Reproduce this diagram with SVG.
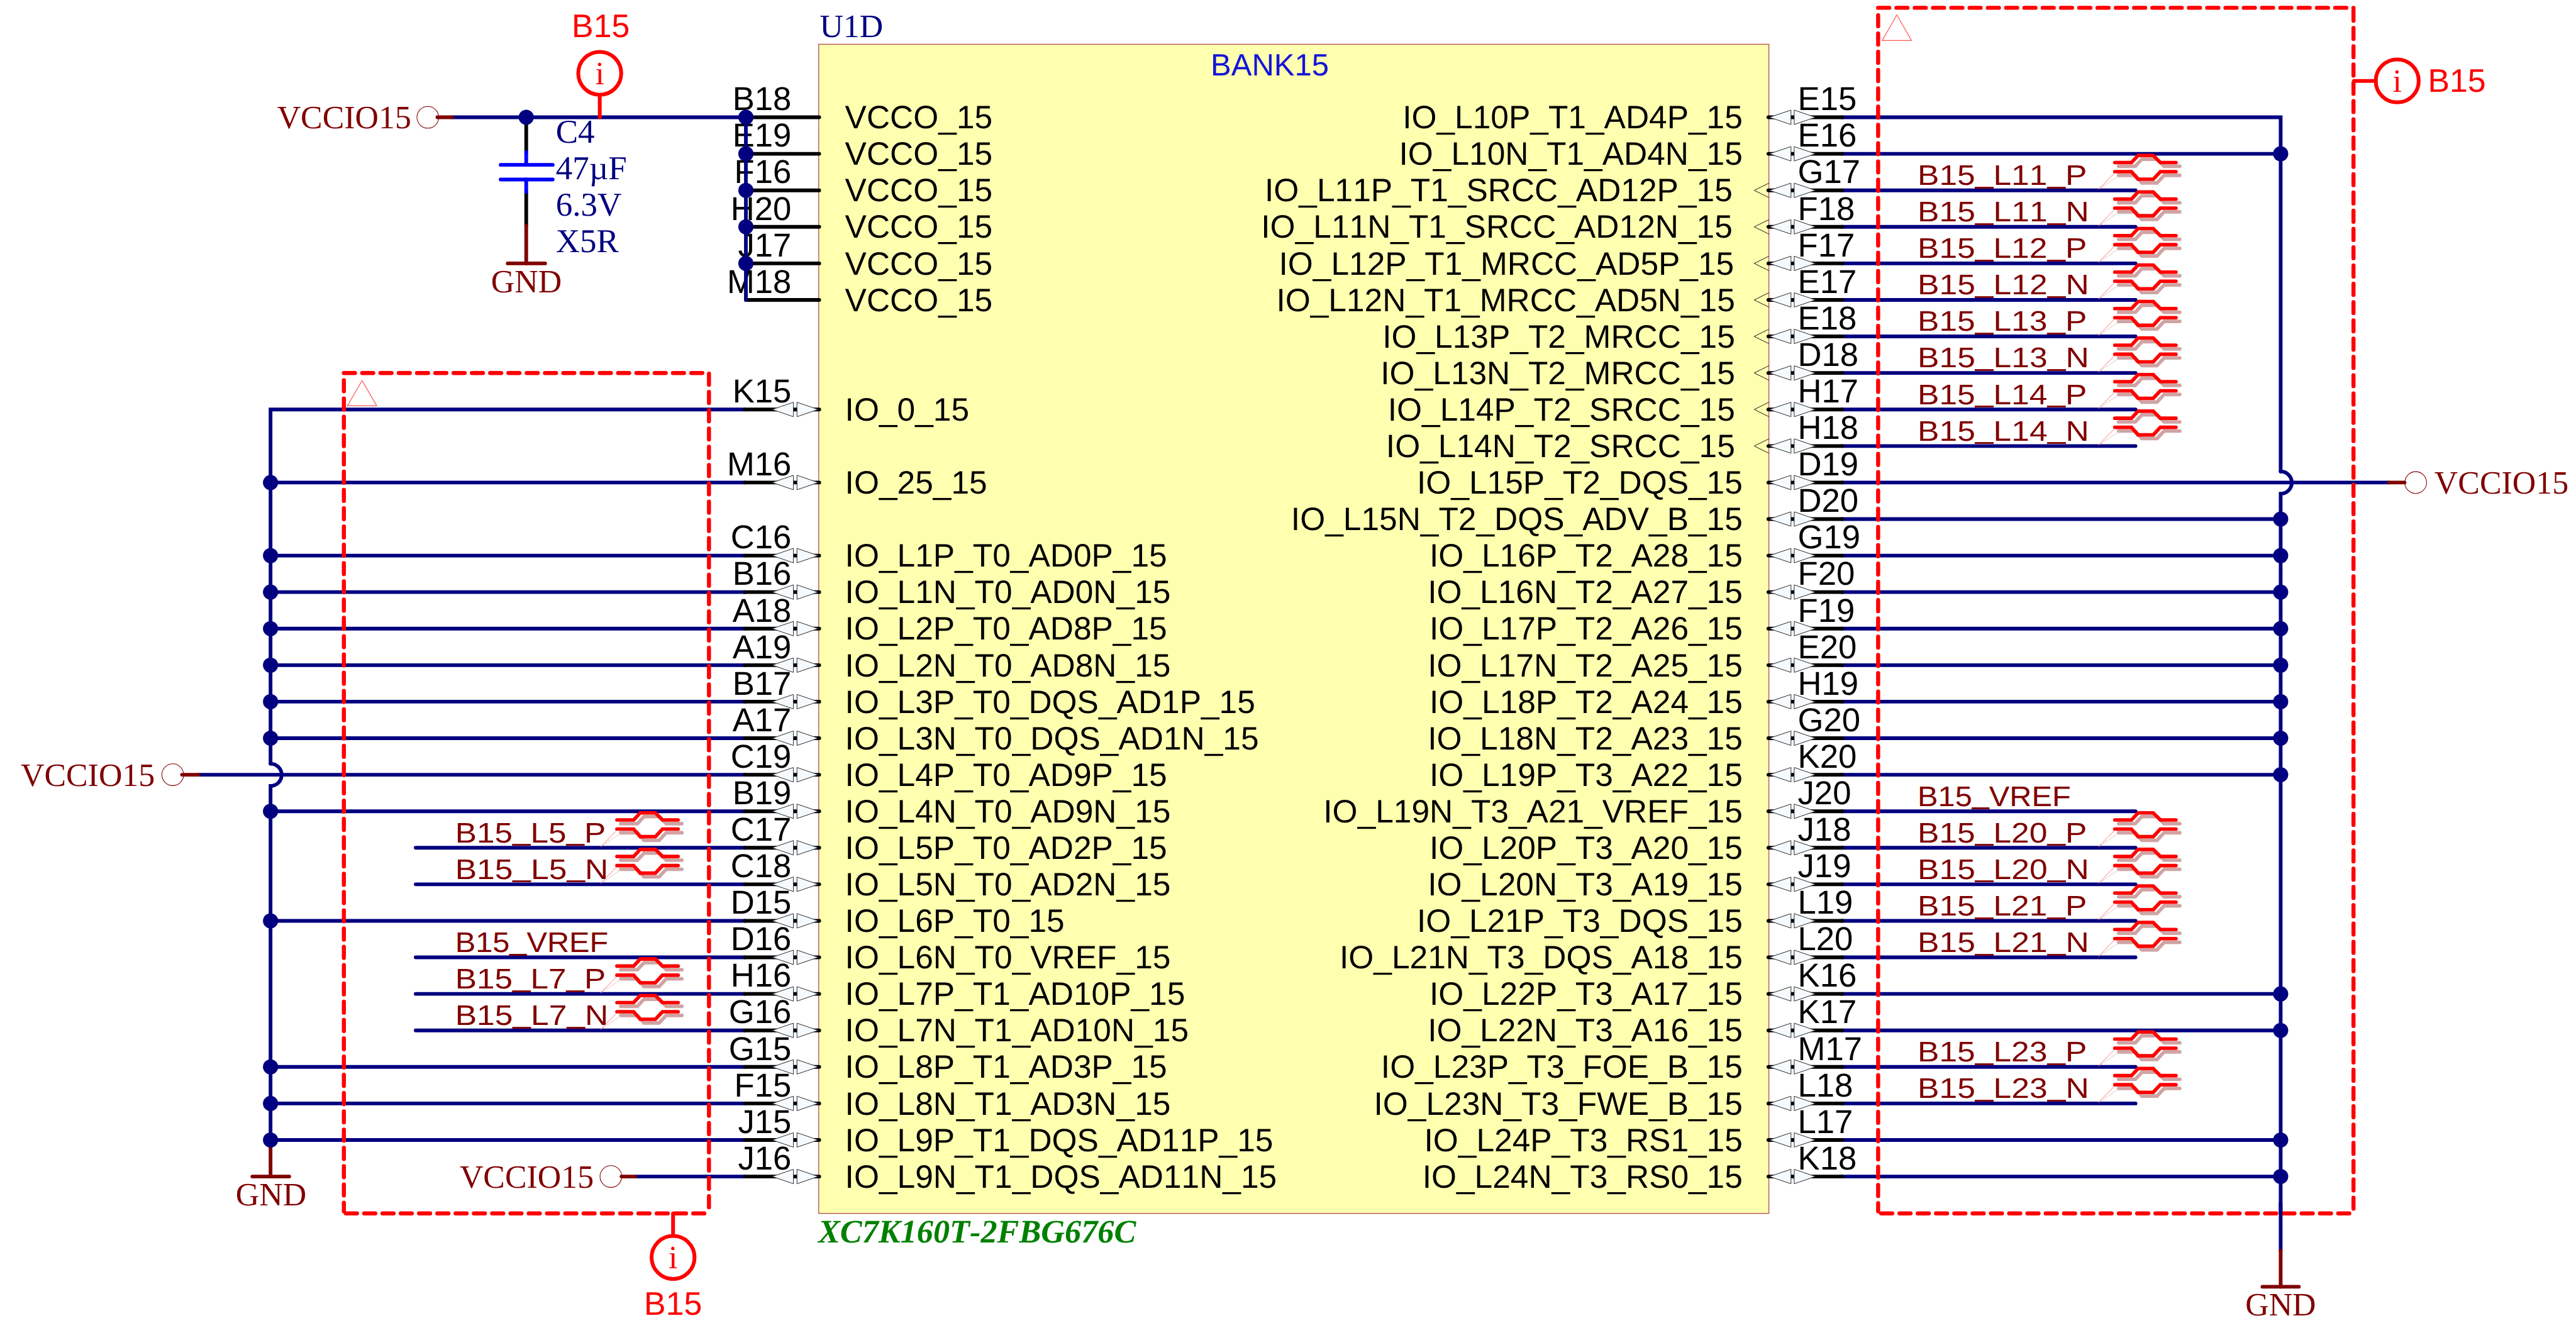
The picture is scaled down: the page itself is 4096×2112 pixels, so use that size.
<svg xmlns="http://www.w3.org/2000/svg" xmlns:xlink="http://www.w3.org/1999/xlink" width="4096" height="2112" viewBox="0 0 4096 2112">
<style>
text{font-kerning:none;text-rendering:geometricPrecision}
.s{font-family:"Liberation Sans",Arial,sans-serif;fill:#000}
.t{font-family:"Liberation Serif","Times New Roman",serif;font-size:64.5px}
.cap{font-size:66px}
.c{font-size:64px}
.e{text-anchor:end}
.m{text-anchor:middle}
.pl{font-size:65.5px;text-anchor:end}
.pr{font-size:65.5px}
.rb{font-size:64.5px;fill:#f00}
.n{font-family:"Liberation Sans",Arial,sans-serif;font-size:56px;fill:#800000}
.u{baseline-shift:4.5px}
.mar{fill:#800000}.nav{fill:#000080}.red{fill:#f00}
.w{fill:none;stroke:#000080;stroke-width:7.3;stroke-linecap:round;stroke-linejoin:miter}
.k{fill:none;stroke:#000;stroke-width:7.3;stroke-linecap:round}
.r{fill:none;stroke:#800000;stroke-width:7.3;stroke-linecap:round}
.b{fill:none;stroke:#00f;stroke-width:7.3;stroke-linecap:round}
.j{fill:#000080}
.ring{fill:none;stroke:#800000;stroke-width:1.3}
.box{fill:none;stroke:#f00;stroke-width:8;stroke-linecap:round;stroke-dasharray:22 14.15}
.info{fill:none;stroke:#f00;stroke-width:7.5;stroke-linecap:round}
.tri{fill:none;stroke:#f55;stroke-width:1.5}
.dia{fill:#f5faff;stroke:#222;stroke-width:1.2}
.clk{fill:none;stroke:#111;stroke-width:1.2}
</style>
<defs>
<g id="pinL">
<path class="k" d="M1473 0H1620"/>
<path class="dia" d="M1527 0L1569 -14.3V14.3Z"/>
<path class="dia" d="M1618 0L1576 -14.3V14.3Z"/>
</g>
<g id="pinR">
<path class="k" d="M3497 0H3643"/>
<path class="dia" d="M3499 0L3541.7 -14.3V14.3Z"/>
<path class="dia" d="M3590 0L3548 -14.3V14.3Z"/>
</g>
<path id="clk" class="clk" d="M3498 -14.3L3469 0L3498 14.3"/>
<g id="dp" fill="none" stroke-linecap="round" stroke-linejoin="miter">
<g stroke="#d0a3a3" stroke-width="7" transform="translate(7.5,7.3)">
<path d="M0 -55H33L46 -69H76L90 -55H121"/>
<path d="M0 -37H33L46 -22H76L90 -37H121"/>
</g>
<path d="M8 -29L-32 -2" stroke="#dcb8b8" stroke-width="1"/>
<g stroke="#f00" stroke-width="7">
<path d="M0 -55H33L46 -69H76L90 -55H121"/>
<path d="M0 -37H33L46 -22H76L90 -37H121"/>
</g>
<path d="M0 -35L-32 -2" stroke="#f55" stroke-width="1"/>
</g>
</defs>
<g transform="scale(0.80408)">
<g id="U1D">
<rect x="1619" y="87.5" width="1879" height="2312.5" fill="#ffffb0" stroke="#b04040" stroke-width="1.5"/>
<text class="t nav" x="1621" y="73">U1D</text>
<text class="s" style="fill:#1414d8;font-size:61px" x="2394" y="149">BANK15</text>
<text class="t" x="1618" y="2458" style="fill:#008000;font-weight:bold;font-style:italic;font-size:65px">XC7K160T-2FBG676C</text>
</g>
<g id="connectors">
<path class="k" d="M1040.6 232V301M1040.6 379.5V446"/>
<path class="b" d="M1040.6 301V326M1040.6 355V379.5"/>
<path class="r" d="M1040.6 446V521"/>
<path class="w" d="M1473 809.9H535V1510.5"/>
<path class="w" d="M535 1510.5A22 22 0 0 1 535 1554.5V2262"/>
<path class="r" d="M535 2262V2327"/>
<path class="w" d="M535 954.4H1473M535 1098.9H1473M535 1171.1H1473M535 1243.4H1473M535 1315.6H1473M535 1387.8H1473M535 1460.1H1473M535 1604.6H1473M535 1821.3H1473M535 2110.2H1473M535 2182.5H1473M535 2254.7H1473"/>
<path class="w" d="M392.5 1532.3H1473"/>
<path class="r" d="M360 1532.3H392.5"/>
<path class="w" d="M822 1676.8H1473M822 1749H1473M822 1893.5H1473M822 1965.8H1473M822 2038H1473"/>
<path class="w" d="M1256 2327H1473"/>
<path class="r" d="M1229 2327H1256"/>
<path class="w" d="M3642 232H4510V932.5"/>
<path class="w" d="M4510 932.5A22 22 0 0 1 4510 976.5V2400"/>
<path class="w" d="M3642 304.2H4510M3642 1026.6H4510M3642 1098.9H4510M3642 1171.1H4510M3642 1243.4H4510M3642 1315.6H4510M3642 1387.8H4510M3642 1460.1H4510M3642 1532.3H4510M3642 1965.8H4510M3642 2038H4510M3642 2254.7H4510M3642 2327H4510"/>
<path class="w" d="M3642 954.4H4724"/>
<path class="r" d="M4724 954.4H4755"/>
<path class="w" d="M3642 376.5H4223M3642 448.7H4223M3642 521H4223M3642 593.2H4223M3642 665.4H4223M3642 737.7H4223M3642 809.9H4223M3642 882.2H4223M3642 1604.6H4223M3642 1676.8H4223M3642 1749H4223M3642 1821.3H4223M3642 1893.5H4223M3642 2110.2H4223M3642 2182.5H4223"/>
<g class="j">
<circle cx="535" cy="954.4" r="15"/><circle cx="535" cy="1098.9" r="15"/><circle cx="535" cy="1171.1" r="15"/><circle cx="535" cy="1243.4" r="15"/><circle cx="535" cy="1315.6" r="15"/><circle cx="535" cy="1387.8" r="15"/><circle cx="535" cy="1460.1" r="15"/><circle cx="535" cy="1604.6" r="15"/><circle cx="535" cy="1821.3" r="15"/><circle cx="535" cy="2110.2" r="15"/><circle cx="535" cy="2182.5" r="15"/><circle cx="535" cy="2254.7" r="15"/>
<circle cx="4510" cy="304.2" r="15"/><circle cx="4510" cy="1026.6" r="15"/><circle cx="4510" cy="1098.9" r="15"/><circle cx="4510" cy="1171.1" r="15"/><circle cx="4510" cy="1243.4" r="15"/><circle cx="4510" cy="1315.6" r="15"/><circle cx="4510" cy="1387.8" r="15"/><circle cx="4510" cy="1460.1" r="15"/><circle cx="4510" cy="1532.3" r="15"/><circle cx="4510" cy="1965.8" r="15"/><circle cx="4510" cy="2038" r="15"/><circle cx="4510" cy="2254.7" r="15"/><circle cx="4510" cy="2327" r="15"/>
</g>
</g>
<g id="C4">
<path class="b" d="M990 326H1093M990 355H1093"/>
<text class="t cap nav" x="1099" y="282">C4</text>
<text class="t cap nav" x="1099" y="355">47µF</text>
<text class="t cap nav" x="1099" y="427">6.3V</text>
<text class="t cap nav" x="1099" y="499">X5R</text>
</g>
<g id="port-vccio-top"><circle class="ring" cx="846" cy="232" r="21.5"/><text class="t mar" x="548" y="254">VCCIO15</text></g>
<g id="port-vccio-left"><circle class="ring" cx="341.6" cy="1532.3" r="21.5"/><text class="t mar" x="41" y="1554">VCCIO15</text></g>
<g id="port-vccio-bottom"><circle class="ring" cx="1208" cy="2327" r="21.5"/><text class="t mar" x="909" y="2349">VCCIO15</text></g>
<g id="port-vccio-right"><circle class="ring" cx="4777" cy="954.4" r="21.5"/><text class="t mar" x="4814" y="976">VCCIO15</text></g>
<g id="gnd-cap"><path class="r" d="M1004 521H1078"/><text class="t mar m" x="1041" y="578">GND</text></g>
<g id="gnd-left"><path class="r" d="M499 2327H572"/><text class="t mar m" x="536" y="2384">GND</text></g>
<g id="gnd-right"><path class="r" d="M4474 2545H4546"/><text class="t mar m" x="4510" y="2602">GND</text></g>

<g id="vcco-pins">
<path class="k" d="M1475 232H1620M1475 304.2H1620M1475 376.5H1620M1475 448.7H1620M1475 521H1620M1475 593.2H1620"/>
<text class="s pl" x="1565" y="218">B18</text><text class="s pl" x="1565" y="290">E19</text><text class="s pl" x="1565" y="362.5">F16</text><text class="s pl" x="1565" y="434.7">H20</text><text class="s pl" x="1565" y="507">J17</text><text class="s pl" x="1565" y="579.2">M18</text>
<text class="s c" x="1671" y="254">VCCO_15</text><text class="s c" x="1671" y="326">VCCO_15</text><text class="s c" x="1671" y="398.5">VCCO_15</text><text class="s c" x="1671" y="470.7">VCCO_15</text><text class="s c" x="1671" y="543">VCCO_15</text><text class="s c" x="1671" y="615.2">VCCO_15</text>
<path class="w" d="M894 232H1475"/>
<path class="r" d="M865 232H894"/>
<path class="w" d="M1475 232V593.2"/>
<g class="j"><circle cx="1040.6" cy="232" r="15"/><circle cx="1475" cy="232" r="15"/><circle cx="1475" cy="304.2" r="15"/><circle cx="1475" cy="376.5" r="15"/><circle cx="1475" cy="448.7" r="15"/><circle cx="1475" cy="521" r="15"/></g>
</g>

<g id="left-pins">
<use href="#pinL" y="809.9"/><use href="#pinL" y="954.4"/><use href="#pinL" y="1098.9"/><use href="#pinL" y="1171.1"/><use href="#pinL" y="1243.4"/><use href="#pinL" y="1315.6"/><use href="#pinL" y="1387.8"/><use href="#pinL" y="1460.1"/><use href="#pinL" y="1532.3"/><use href="#pinL" y="1604.6"/><use href="#pinL" y="1676.8"/><use href="#pinL" y="1749"/><use href="#pinL" y="1821.3"/><use href="#pinL" y="1893.5"/><use href="#pinL" y="1965.8"/><use href="#pinL" y="2038"/><use href="#pinL" y="2110.2"/><use href="#pinL" y="2182.5"/><use href="#pinL" y="2254.7"/><use href="#pinL" y="2327"/>
<text class="s pl" x="1565" y="796">K15</text><text class="s c" x="1671" y="832">IO_0_15</text>
<text class="s pl" x="1565" y="940.4">M16</text><text class="s c" x="1671" y="976.4">IO_25_15</text>
<text class="s pl" x="1565" y="1084.9">C16</text><text class="s c" x="1671" y="1120.9">IO_L1P_T0_AD0P_15</text>
<text class="s pl" x="1565" y="1157.1">B16</text><text class="s c" x="1671" y="1193.1">IO_L1N_T0_AD0N_15</text>
<text class="s pl" x="1565" y="1229.4">A18</text><text class="s c" x="1671" y="1265.4">IO_L2P_T0_AD8P_15</text>
<text class="s pl" x="1565" y="1301.6">A19</text><text class="s c" x="1671" y="1337.6">IO_L2N_T0_AD8N_15</text>
<text class="s pl" x="1565" y="1373.8">B17</text><text class="s c" x="1671" y="1409.8">IO_L3P_T0_DQS_AD1P_15</text>
<text class="s pl" x="1565" y="1446.1">A17</text><text class="s c" x="1671" y="1482.1">IO_L3N_T0_DQS_AD1N_15</text>
<text class="s pl" x="1565" y="1518.3">C19</text><text class="s c" x="1671" y="1554.3">IO_L4P_T0_AD9P_15</text>
<text class="s pl" x="1565" y="1590.6">B19</text><text class="s c" x="1671" y="1626.6">IO_L4N_T0_AD9N_15</text>
<text class="s pl" x="1565" y="1662.8">C17</text><text class="s c" x="1671" y="1698.8">IO_L5P_T0_AD2P_15</text>
<text class="s pl" x="1565" y="1735">C18</text><text class="s c" x="1671" y="1771">IO_L5N_T0_AD2N_15</text>
<text class="s pl" x="1565" y="1807.3">D15</text><text class="s c" x="1671" y="1843.3">IO_L6P_T0_15</text>
<text class="s pl" x="1565" y="1879.5">D16</text><text class="s c" x="1671" y="1915.5">IO_L6N_T0_VREF_15</text>
<text class="s pl" x="1565" y="1951.8">H16</text><text class="s c" x="1671" y="1987.8">IO_L7P_T1_AD10P_15</text>
<text class="s pl" x="1565" y="2024">G16</text><text class="s c" x="1671" y="2060">IO_L7N_T1_AD10N_15</text>
<text class="s pl" x="1565" y="2096.2">G15</text><text class="s c" x="1671" y="2132.2">IO_L8P_T1_AD3P_15</text>
<text class="s pl" x="1565" y="2168.5">F15</text><text class="s c" x="1671" y="2204.5">IO_L8N_T1_AD3N_15</text>
<text class="s pl" x="1565" y="2240.7">J15</text><text class="s c" x="1671" y="2276.7">IO_L9P_T1_DQS_AD11P_15</text>
<text class="s pl" x="1565" y="2313">J16</text><text class="s c" x="1671" y="2349">IO_L9N_T1_DQS_AD11N_15</text>
</g>

<g id="right-pins">
<use href="#clk" y="376.5"/><use href="#clk" y="448.7"/><use href="#clk" y="521"/><use href="#clk" y="593.2"/><use href="#clk" y="665.4"/><use href="#clk" y="737.7"/><use href="#clk" y="809.9"/><use href="#clk" y="882.2"/>
<use href="#pinR" y="232"/><use href="#pinR" y="304.2"/><use href="#pinR" y="376.5"/><use href="#pinR" y="448.7"/><use href="#pinR" y="521"/><use href="#pinR" y="593.2"/><use href="#pinR" y="665.4"/><use href="#pinR" y="737.7"/><use href="#pinR" y="809.9"/><use href="#pinR" y="882.2"/><use href="#pinR" y="954.4"/><use href="#pinR" y="1026.6"/><use href="#pinR" y="1098.9"/><use href="#pinR" y="1171.1"/><use href="#pinR" y="1243.4"/><use href="#pinR" y="1315.6"/><use href="#pinR" y="1387.8"/><use href="#pinR" y="1460.1"/><use href="#pinR" y="1532.3"/><use href="#pinR" y="1604.6"/><use href="#pinR" y="1676.8"/><use href="#pinR" y="1749"/><use href="#pinR" y="1821.3"/><use href="#pinR" y="1893.5"/><use href="#pinR" y="1965.8"/><use href="#pinR" y="2038"/><use href="#pinR" y="2110.2"/><use href="#pinR" y="2182.5"/><use href="#pinR" y="2254.7"/><use href="#pinR" y="2327"/>
<text class="s pr" x="3555" y="218">E15</text><text class="s c e" x="3446" y="254">IO_L10P_T1_AD4P_15</text>
<text class="s pr" x="3555" y="290.2">E16</text><text class="s c e" x="3446" y="326.2">IO_L10N_T1_AD4N_15</text>
<text class="s pr" x="3555" y="362.5">G17</text><text class="s c e" x="3426" y="398.5">IO_L11P_T1_SRCC_AD12P_15</text>
<text class="s pr" x="3555" y="434.7">F18</text><text class="s c e" x="3426" y="470.7">IO_L11N_T1_SRCC_AD12N_15</text>
<text class="s pr" x="3555" y="507">F17</text><text class="s c e" x="3429" y="543">IO_L12P_T1_MRCC_AD5P_15</text>
<text class="s pr" x="3555" y="579.2">E17</text><text class="s c e" x="3431" y="615.2">IO_L12N_T1_MRCC_AD5N_15</text>
<text class="s pr" x="3555" y="651.4">E18</text><text class="s c e" x="3431" y="687.4">IO_L13P_T2_MRCC_15</text>
<text class="s pr" x="3555" y="723.7">D18</text><text class="s c e" x="3431" y="759.7">IO_L13N_T2_MRCC_15</text>
<text class="s pr" x="3555" y="795.9">H17</text><text class="s c e" x="3431" y="831.9">IO_L14P_T2_SRCC_15</text>
<text class="s pr" x="3555" y="868.2">H18</text><text class="s c e" x="3431" y="904.2">IO_L14N_T2_SRCC_15</text>
<text class="s pr" x="3555" y="940.4">D19</text><text class="s c e" x="3446" y="976.4">IO_L15P_T2_DQS_15</text>
<text class="s pr" x="3555" y="1012.6">D20</text><text class="s c e" x="3446" y="1048.6">IO_L15N_T2_DQS_ADV_B_15</text>
<text class="s pr" x="3555" y="1084.9">G19</text><text class="s c e" x="3446" y="1120.9">IO_L16P_T2_A28_15</text>
<text class="s pr" x="3555" y="1157.1">F20</text><text class="s c e" x="3446" y="1193.1">IO_L16N_T2_A27_15</text>
<text class="s pr" x="3555" y="1229.4">F19</text><text class="s c e" x="3446" y="1265.4">IO_L17P_T2_A26_15</text>
<text class="s pr" x="3555" y="1301.6">E20</text><text class="s c e" x="3446" y="1337.6">IO_L17N_T2_A25_15</text>
<text class="s pr" x="3555" y="1373.8">H19</text><text class="s c e" x="3446" y="1409.8">IO_L18P_T2_A24_15</text>
<text class="s pr" x="3555" y="1446.1">G20</text><text class="s c e" x="3446" y="1482.1">IO_L18N_T2_A23_15</text>
<text class="s pr" x="3555" y="1518.3">K20</text><text class="s c e" x="3446" y="1554.3">IO_L19P_T3_A22_15</text>
<text class="s pr" x="3555" y="1590.6">J20</text><text class="s c e" x="3446" y="1626.6">IO_L19N_T3_A21_VREF_15</text>
<text class="s pr" x="3555" y="1662.8">J18</text><text class="s c e" x="3446" y="1698.8">IO_L20P_T3_A20_15</text>
<text class="s pr" x="3555" y="1735">J19</text><text class="s c e" x="3446" y="1771">IO_L20N_T3_A19_15</text>
<text class="s pr" x="3555" y="1807.3">L19</text><text class="s c e" x="3446" y="1843.3">IO_L21P_T3_DQS_15</text>
<text class="s pr" x="3555" y="1879.5">L20</text><text class="s c e" x="3446" y="1915.5">IO_L21N_T3_DQS_A18_15</text>
<text class="s pr" x="3555" y="1951.8">K16</text><text class="s c e" x="3446" y="1987.8">IO_L22P_T3_A17_15</text>
<text class="s pr" x="3555" y="2024">K17</text><text class="s c e" x="3446" y="2060">IO_L22N_T3_A16_15</text>
<text class="s pr" x="3555" y="2096.2">M17</text><text class="s c e" x="3446" y="2132.2">IO_L23P_T3_FOE_B_15</text>
<text class="s pr" x="3555" y="2168.5">L18</text><text class="s c e" x="3446" y="2204.5">IO_L23N_T3_FWE_B_15</text>
<text class="s pr" x="3555" y="2240.7">L17</text><text class="s c e" x="3446" y="2276.7">IO_L24P_T3_RS1_15</text>
<text class="s pr" x="3555" y="2313">K18</text><text class="s c e" x="3446" y="2349">IO_L24N_T3_RS0_15</text>
</g>

<g id="net-labels">
<g id="net-right">
<text class="n" x="3792" y="365.7" textLength="335" lengthAdjust="spacingAndGlyphs">B15<tspan class="u">_</tspan>L11<tspan class="u">_</tspan>P</text><use href="#dp" x="4182" y="376.5"/>
<text class="n" x="3792" y="437.9" textLength="339" lengthAdjust="spacingAndGlyphs">B15<tspan class="u">_</tspan>L11<tspan class="u">_</tspan>N</text><use href="#dp" x="4182" y="448.7"/>
<text class="n" x="3792" y="510.2" textLength="335" lengthAdjust="spacingAndGlyphs">B15<tspan class="u">_</tspan>L12<tspan class="u">_</tspan>P</text><use href="#dp" x="4182" y="521"/>
<text class="n" x="3792" y="582.4" textLength="339" lengthAdjust="spacingAndGlyphs">B15<tspan class="u">_</tspan>L12<tspan class="u">_</tspan>N</text><use href="#dp" x="4182" y="593.2"/>
<text class="n" x="3792" y="654.6" textLength="335" lengthAdjust="spacingAndGlyphs">B15<tspan class="u">_</tspan>L13<tspan class="u">_</tspan>P</text><use href="#dp" x="4182" y="665.4"/>
<text class="n" x="3792" y="726.9" textLength="339" lengthAdjust="spacingAndGlyphs">B15<tspan class="u">_</tspan>L13<tspan class="u">_</tspan>N</text><use href="#dp" x="4182" y="737.7"/>
<text class="n" x="3792" y="799.1" textLength="335" lengthAdjust="spacingAndGlyphs">B15<tspan class="u">_</tspan>L14<tspan class="u">_</tspan>P</text><use href="#dp" x="4182" y="809.9"/>
<text class="n" x="3792" y="871.4" textLength="339" lengthAdjust="spacingAndGlyphs">B15<tspan class="u">_</tspan>L14<tspan class="u">_</tspan>N</text><use href="#dp" x="4182" y="882.2"/>
<text class="n" x="3792" y="1593.8" textLength="303" lengthAdjust="spacingAndGlyphs">B15<tspan class="u">_</tspan>VREF</text>
<text class="n" x="3792" y="1666" textLength="335" lengthAdjust="spacingAndGlyphs">B15<tspan class="u">_</tspan>L20<tspan class="u">_</tspan>P</text><use href="#dp" x="4182" y="1676.8"/>
<text class="n" x="3792" y="1738.2" textLength="339" lengthAdjust="spacingAndGlyphs">B15<tspan class="u">_</tspan>L20<tspan class="u">_</tspan>N</text><use href="#dp" x="4182" y="1749"/>
<text class="n" x="3792" y="1810.5" textLength="335" lengthAdjust="spacingAndGlyphs">B15<tspan class="u">_</tspan>L21<tspan class="u">_</tspan>P</text><use href="#dp" x="4182" y="1821.3"/>
<text class="n" x="3792" y="1882.7" textLength="339" lengthAdjust="spacingAndGlyphs">B15<tspan class="u">_</tspan>L21<tspan class="u">_</tspan>N</text><use href="#dp" x="4182" y="1893.5"/>
<text class="n" x="3792" y="2099.4" textLength="335" lengthAdjust="spacingAndGlyphs">B15<tspan class="u">_</tspan>L23<tspan class="u">_</tspan>P</text><use href="#dp" x="4182" y="2110.2"/>
<text class="n" x="3792" y="2171.7" textLength="339" lengthAdjust="spacingAndGlyphs">B15<tspan class="u">_</tspan>L23<tspan class="u">_</tspan>N</text><use href="#dp" x="4182" y="2182.5"/>
</g>
<g id="net-left">
<text class="n" x="900" y="1666" textLength="298" lengthAdjust="spacingAndGlyphs">B15<tspan class="u">_</tspan>L5<tspan class="u">_</tspan>P</text><use href="#dp" x="1220" y="1676.8"/>
<text class="n" x="900" y="1738.2" textLength="303" lengthAdjust="spacingAndGlyphs">B15<tspan class="u">_</tspan>L5<tspan class="u">_</tspan>N</text><use href="#dp" x="1220" y="1749"/>
<text class="n" x="900" y="1882.7" textLength="303" lengthAdjust="spacingAndGlyphs">B15<tspan class="u">_</tspan>VREF</text>
<text class="n" x="900" y="1955" textLength="298" lengthAdjust="spacingAndGlyphs">B15<tspan class="u">_</tspan>L7<tspan class="u">_</tspan>P</text><use href="#dp" x="1220" y="1965.8"/>
<text class="n" x="900" y="2027.2" textLength="303" lengthAdjust="spacingAndGlyphs">B15<tspan class="u">_</tspan>L7<tspan class="u">_</tspan>N</text><use href="#dp" x="1220" y="2038"/>
</g>
</g>

<g id="region-left">
<path class="box" d="M680 737.7H1402"/><path class="box" d="M680 752V2396"/><path class="box" d="M1402 739V2396"/><path class="box" d="M684 2400H1398"/>
<path class="tri" d="M716 752.7L687 802.7H745Z"/>
</g>
<g id="region-right">
<path class="box" d="M3714 15.4H4654"/><path class="box" d="M3714 30V2396"/><path class="box" d="M4654 19V2396"/><path class="box" d="M3720 2400H4650"/>
<path class="tri" d="M3751 29.5L3722 80H3780Z"/>
</g>
<g id="rail-over"><path class="w" d="M4510 2380V2474"/><path class="r" d="M4510 2474V2545"/></g>

<g id="info-top"><circle class="info" cx="1186" cy="145" r="42.5"/><path class="info" d="M1186 188V232"/><text class="t red m" x="1186" y="167">i</text><text class="s rb m" x="1188" y="73">B15</text></g>
<g id="info-right"><circle class="info" cx="4740.5" cy="160" r="42.5"/><path class="info" d="M4655 160H4698"/><text class="t red m" x="4740.5" y="182">i</text><text class="s rb" x="4801" y="181">B15</text></g>
<g id="info-left"><circle class="info" cx="1331" cy="2487" r="42.5"/><path class="info" d="M1331 2400V2444"/><text class="t red m" x="1331" y="2509">i</text><text class="s rb m" x="1331" y="2601">B15</text></g>
</g>
</svg>
